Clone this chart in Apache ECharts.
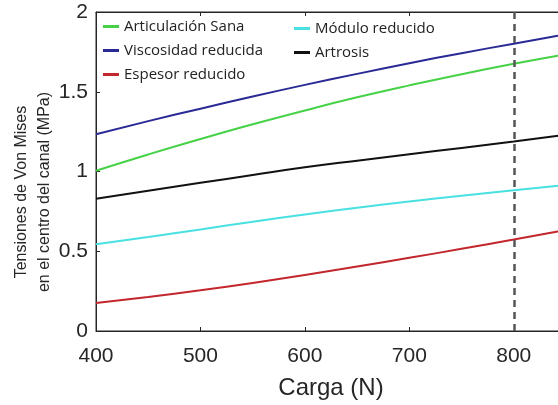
<!DOCTYPE html>
<html>
<head>
<meta charset="utf-8">
<script src="https://cdn.jsdelivr.net/npm/echarts@6/dist/echarts.min.js"></script>
<style>
html,body{margin:0;padding:0;background:#fff;overflow:hidden;width:558px;height:405px;}
#c{width:572px;height:405px;}
</style>
</head>
<body>
<div id="c"></div>
<script>
// Load (N)
const loads = [400, 450, 500, 550, 600, 650, 700, 750, 800, 850];
// Von Mises stress at canal centre (MPa)
const sana       = [1.005, 1.107, 1.204, 1.296, 1.383, 1.465, 1.540, 1.610, 1.675, 1.735];
const viscosidad = [1.234, 1.316, 1.394, 1.470, 1.543, 1.612, 1.679, 1.742, 1.801, 1.860];
const espesor    = [0.175, 0.213, 0.255, 0.301, 0.351, 0.404, 0.459, 0.515, 0.573, 0.633];
const modulo     = [0.544, 0.590, 0.637, 0.685, 0.731, 0.773, 0.812, 0.848, 0.882, 0.916];
const artrosis   = [0.829, 0.879, 0.929, 0.978, 1.026, 1.068, 1.108, 1.148, 1.188, 1.230];
const names = ['Articulación Sana', 'Viscosidad reducida', 'Espesor reducido', 'Módulo reducido', 'Artrosis'];
const colors = ['#46d246', '#2a2a96', '#c3262c', '#48e0e0', '#111111'];
const refLoad = 800;

const seriesVals = [sana, viscosidad, espesor, modulo, artrosis];
const pair = v => loads.map((x, i) => [x, v[i]]);

const axisColor = '#262626';
const series = seriesVals.map((v, i) => ({
  name: names[i],
  type: 'line',
  smooth: true,
  showSymbol: false,
  data: pair(v),
  lineStyle: { color: colors[i], width: 2 },
  itemStyle: { color: colors[i] },
  z: 3
}));
series[0].markLine = {
  silent: true,
  symbol: 'none',
  label: { show: false },
  lineStyle: { color: '#555', type: [7, 5], width: 2.5 },
  data: [[{ coord: [refLoad, 0] }, { coord: [refLoad, 2] }]]
};

const legendCommon = {
  orient: 'vertical',
  icon: 'rect',
  itemWidth: 16,
  itemHeight: 3,
  itemGap: 9,
  textStyle: { fontFamily: 'Open Sans', fontSize: 15, color: '#222' },
  selectedMode: false
};

const chart = echarts.init(document.getElementById('c'));
chart.setOption({
  animation: false,
  grid: { left: 96, top: 12, bottom: 71, right: 6, show: true, borderColor: axisColor, borderWidth: 1 },
  legend: [
    Object.assign({}, legendCommon, { left: 98, top: 14, data: names.slice(0, 3) }),
    Object.assign({}, legendCommon, { left: 289, top: 16, data: names.slice(3) })
  ],
  xAxis: [{
    type: 'value', min: 400, max: 850, interval: 100,
    name: 'Carga (N)', nameLocation: 'middle', nameGap: 45,
    nameTextStyle: { fontFamily: 'Liberation Sans', fontSize: 24, color: '#262626' },
    axisLine: { show: true, lineStyle: { color: axisColor } },
    axisTick: { show: true, inside: true, length: 4, lineStyle: { color: axisColor } },
    axisLabel: { fontFamily: 'Liberation Sans', fontSize: 21, color: '#262626', margin: 15, showMaxLabel: false },
    splitLine: { show: false }
  }, {
    type: 'value', min: 400, max: 850, interval: 100, position: 'top',
    axisLine: { show: true, lineStyle: { color: axisColor } },
    axisTick: { show: true, inside: true, length: 4, lineStyle: { color: axisColor } },
    axisLabel: { show: false },
    splitLine: { show: false }
  }],
  yAxis: {
    type: 'value', min: 0, max: 2, interval: 0.5,
    axisLine: { show: true, lineStyle: { color: axisColor } },
    axisTick: { show: true, inside: true, length: 4, lineStyle: { color: axisColor } },
    axisLabel: { fontFamily: 'Liberation Sans', fontSize: 21, color: '#262626', margin: 8,
      formatter: v => String(v) },
    splitLine: { show: false }
  },
  graphic: [{
    type: 'text',
    x: 33, y: 192,
    rotation: Math.PI / 2,
    style: {
      text: 'Tensiones de Von Mises\nen el centro del canal (MPa)',
      fontFamily: 'Liberation Sans', fontSize: 16, lineHeight: 23,
      fill: '#262626', align: 'center', verticalAlign: 'middle'
    }
  }],
  series: series
});
</script>
</body>
</html>
